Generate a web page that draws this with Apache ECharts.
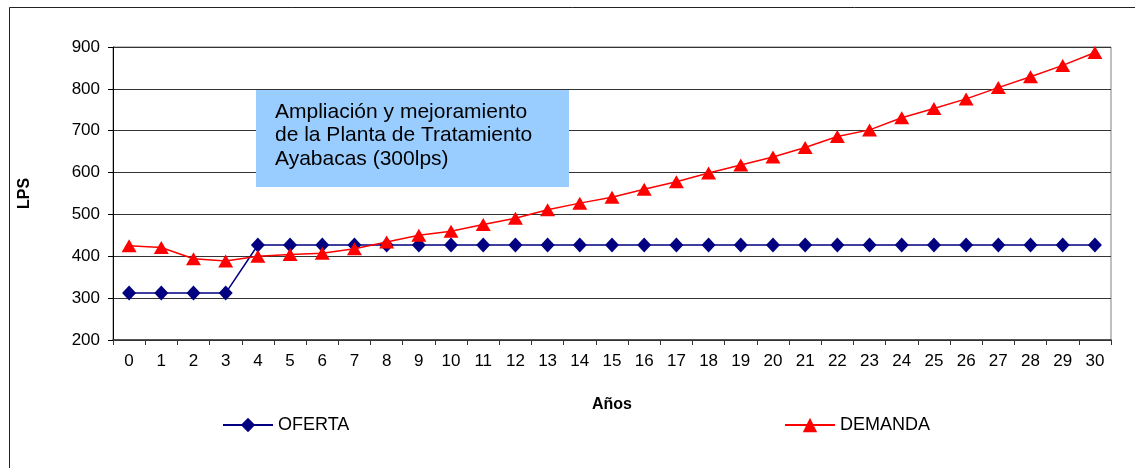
<!DOCTYPE html>
<html>
<head>
<meta charset="utf-8">
<script src="https://cdn.jsdelivr.net/npm/echarts@6/dist/echarts.min.js"></script>
<style>html,body{margin:0;padding:0;background:#fff;}#c{width:1135px;height:468px;}</style>
</head>
<body>
<div id="c"></div>
<script>
const categories = ['0','1','2','3','4','5','6','7','8','9','10','11','12','13','14','15','16','17','18','19','20','21','22','23','24','25','26','27','28','29','30'];
const oferta = [312,312,312,312,427,427,427,427,427,427,427,427,427,427,427,427,427,427,427,427,427,427,427,427,427,427,427,427,427,427,427];
const demanda = [425,421,394,389,400,404,407,418,434,450,460,476,491,511,527,541,560,578,599,618,637,660,686,702,731,753,776,803,829,856,887];
const yTicks = [200,300,400,500,600,700,800,900];
const boxText = ['Ampliación y mejoramiento','de la Planta de Tratamiento','Ayabacas (300lps)'];

const FONT = 'Liberation Sans, Arial, sans-serif';
const chart = echarts.init(document.getElementById('c'), null, {renderer:'canvas'});
chart.setOption({
  animation:false,
  backgroundColor:'#ffffff',
  textStyle:{fontFamily:FONT},
  grid:{left:113,right:24,top:47,bottom:128,show:true,borderColor:'#808080',borderWidth:1,backgroundColor:'transparent'},
  legend:[
    {data:['OFERTA'],left:222,top:416,padding:0,itemWidth:50,itemHeight:18,itemGap:6,textStyle:{fontSize:18,color:'#000',fontFamily:FONT}},
    {data:['DEMANDA'],left:784,top:416,padding:0,itemWidth:50,itemHeight:18,itemGap:6,textStyle:{fontSize:18,color:'#000',fontFamily:FONT}}
  ],
  xAxis:{
    type:'category',data:categories,boundaryGap:true,
    name:'Años',nameLocation:'middle',nameGap:57,
    nameTextStyle:{fontSize:16,fontWeight:'bold',color:'#000',fontFamily:FONT},
    axisLine:{lineStyle:{color:'#333',width:1.5}},
    axisTick:{show:true,interval:0,length:5,lineStyle:{color:'#333'}},
    axisLabel:{interval:0,fontSize:17,color:'#000',margin:13,fontFamily:FONT},
    splitLine:{show:false}
  },
  yAxis:{
    type:'value',min:200,max:900,interval:100,
    name:'LPS',nameLocation:'middle',nameGap:80,nameRotate:90,
    nameTextStyle:{fontSize:16,fontWeight:'bold',color:'#000',fontFamily:FONT},
    axisLine:{show:true,lineStyle:{color:'#000',width:1}},
    axisTick:{show:true,length:5,lineStyle:{color:'#000'}},
    axisLabel:{fontSize:17,color:'#000',margin:13,fontFamily:FONT,
      formatter:v=>yTicks.includes(v)?String(v):''},
    splitLine:{show:true,lineStyle:{color:'#333',width:1}}
  },
  series:[
    {name:'OFERTA',type:'line',data:oferta,symbol:'diamond',symbolSize:[14,15],
     itemStyle:{color:'#000080'},lineStyle:{color:'#000080',width:1.5},z:3},
    {name:'DEMANDA',type:'line',data:demanda,symbol:'triangle',symbolSize:[15,13],
     itemStyle:{color:'#FF0000'},lineStyle:{color:'#FF0000',width:1.5},z:4}
  ],
  graphic:[
    {type:'rect',shape:{x:9.5,y:7.5,width:1300,height:700},style:{fill:'none',stroke:'#222',lineWidth:1},silent:true,z:0},
    {type:'rect',shape:{x:256,y:90,width:313,height:97},style:{fill:'#99CCFF'},z:10},
    {type:'text',x:275,y:100,z:11,style:{text:boxText.join('\n'),font:'21px '+FONT,fill:'#000',lineHeight:23.5}}
  ]
});
</script>
</body>
</html>
